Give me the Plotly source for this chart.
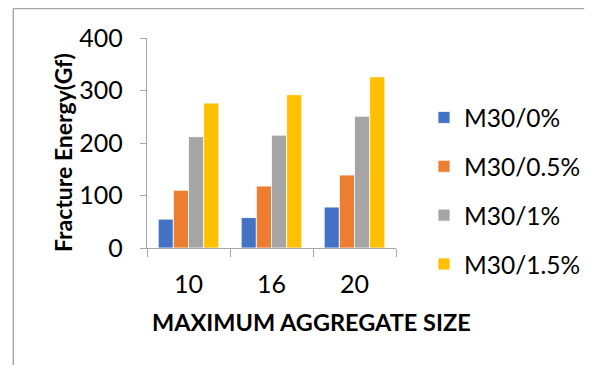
import plotly.graph_objects as go

categories = ["10", "16", "20"]
series_names = ["M30/0%", "M30/0.5%", "M30/1%", "M30/1.5%"]
m30_0 = [55, 58, 78]
m30_05 = [110, 118, 139]
m30_1 = [212, 215, 251]
m30_15 = [276, 292, 326]
colors = ["#4472C4", "#ED7D31", "#A5A5A5", "#FFC000"]
y_ticks = [0, 100, 200, 300, 400]

FONT = "Lato"
fig = go.Figure()
for i, (name, vals) in enumerate(zip(series_names, [m30_0, m30_05, m30_1, m30_15])):
    fig.add_trace(go.Bar(
        x=categories, y=vals, name=name, legendgroup=f"g{i}",
        marker=dict(color=colors[i], line=dict(color="white", width=0.8)),
    ))

# page has an 8px body offset
OFF = 8
W, H = 598 - OFF, 365 - OFF
L, R, T, B = 147, 405, 38, 248   # page coordinates of plot area
pw, ph = R - L, B - T

def px(x):
    return (x - L) / pw

def py(y):
    return (B - y) / ph

fig.update_layout(
    width=W, height=H,
    margin=dict(l=L - OFF, r=598 - R, t=T - OFF, b=365 - B, pad=0),
    paper_bgcolor="white", plot_bgcolor="white",
    barmode="group", bargap=0.27, bargroupgap=0,
    font=dict(family=FONT, size=25, color="#000000"),
    showlegend=True,
    legend=dict(x=px(434), y=py(95), xanchor="left", yanchor="top",
                font=dict(family=FONT, size=24.5, color="#000000"),
                tracegroupgap=14, traceorder="grouped",
                bgcolor="rgba(0,0,0,0)"),
    xaxis=dict(type="category", showgrid=False, showline=True,
               linecolor="#A6A6A6", linewidth=1.3,
               ticks="outside", tickson="boundaries", ticklen=8,
               tickcolor="#A6A6A6", tickwidth=1.3,
               ticklabelstandoff=14,
               tickfont=dict(family=FONT, size=25, color="#000000")),
    yaxis=dict(range=[0, 400], tickvals=y_ticks, showgrid=False, showline=True,
               linecolor="#A6A6A6", linewidth=1.3, zeroline=False,
               ticks="outside", ticklen=6, tickcolor="#A6A6A6", tickwidth=1.3,
               ticklabelstandoff=12,
               tickfont=dict(family=FONT, size=25, color="#000000")),
    annotations=[
        dict(text="<b>Fracture Energy(Gf)</b>", xref="paper", yref="paper",
             x=px(60), y=py(153), textangle=-90, showarrow=False,
             xanchor="center", yanchor="middle",
             font=dict(family=FONT, size=23, color="#000000")),
        dict(text="<b>MAXIMUM AGGREGATE SIZE</b>", xref="paper", yref="paper",
             x=px(317), y=py(322), showarrow=False,
             xanchor="center", yanchor="middle",
             font=dict(family=FONT, size=23.5, color="#000000")),
    ],
    shapes=[
        dict(type="line", xref="paper", yref="paper",
             x0=px(8.5), x1=px(600), y0=py(8.5), y1=py(8.5),
             line=dict(color="#A6A6A6", width=1.5)),
        dict(type="line", xref="paper", yref="paper",
             x0=px(8.5), x1=px(8.5), y0=py(8.5), y1=py(367),
             line=dict(color="#A6A6A6", width=1.5)),
    ],
)

fig.write_html("out.html")
